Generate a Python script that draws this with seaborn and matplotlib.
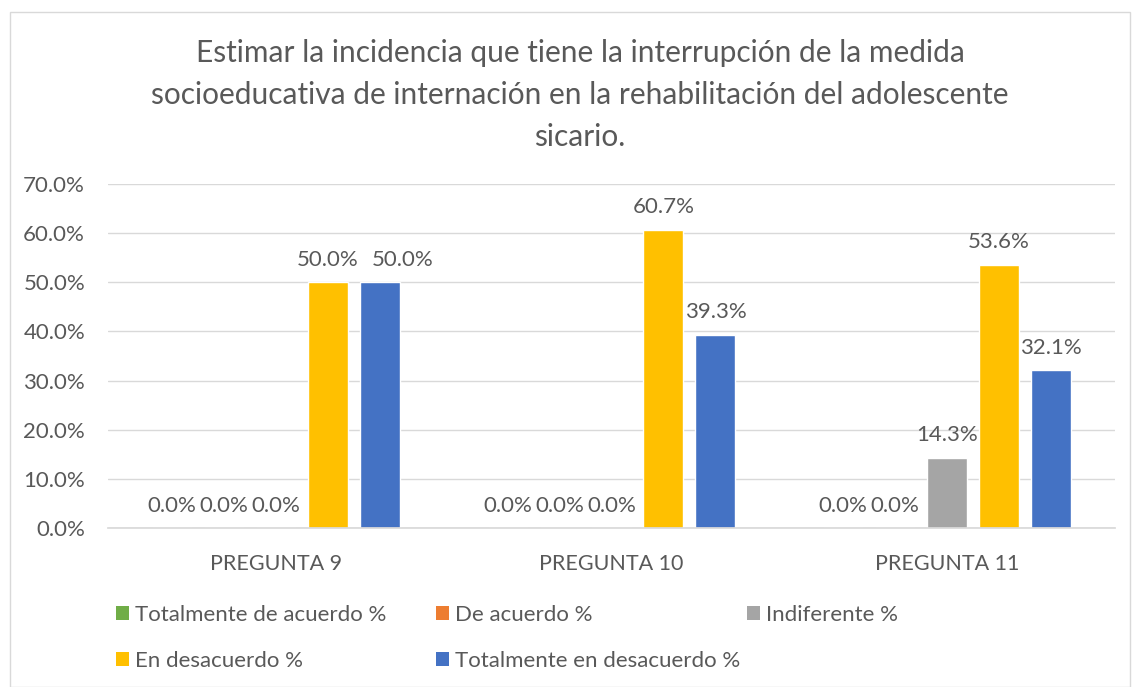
import numpy as np
import pandas as pd
import matplotlib
matplotlib.use("Agg")
import matplotlib.pyplot as plt
import seaborn as sns
from matplotlib.patches import Rectangle, Patch

preguntas = ["PREGUNTA 9", "PREGUNTA 10", "PREGUNTA 11"]
categorias = ["Totalmente de acuerdo %", "De acuerdo %", "Indiferente %",
              "En desacuerdo %", "Totalmente en desacuerdo %"]
tot_acuerdo = [0.0, 0.0, 0.0]
de_acuerdo = [0.0, 0.0, 0.0]
indiferente = [0.0, 0.0, 14.3]
en_desacuerdo = [50.0, 60.7, 53.6]
tot_desacuerdo = [50.0, 39.3, 32.1]
colores = ["#70AD47", "#ED7D31", "#A5A5A5", "#FFC000", "#4472C4"]
titulo = ("Estimar la incidencia que tiene la interrupción de la medida\n"
          "socioeducativa de internación en la rehabilitación del adolescente\n"
          "sicario.")

series = [tot_acuerdo, de_acuerdo, indiferente, en_desacuerdo, tot_desacuerdo]
rows = []
for cat, vals in zip(categorias, series):
    for p, v in zip(preguntas, vals):
        rows.append({"pregunta": p, "categoria": cat, "valor": v})
df = pd.DataFrame(rows)

sns.set_theme(style="white")
plt.rcParams["font.family"] = ["Lato", "DejaVu Sans"]
txt = "#595959"
fs = 16

fig = plt.figure(figsize=(11.32, 6.87), dpi=100)
ax = fig.add_axes([108/1132, 1-528/687, (1115-108)/1132, (528-184)/687])

sns.barplot(data=df, x="pregunta", y="valor", hue="categoria",
            hue_order=categorias, order=preguntas, palette=colores,
            width=0.774, gap=0.23, legend=False, ax=ax, saturation=1)

pad_pt = 9
all_labels = []
for cont in ax.containers:
    all_labels.append(ax.bar_label(cont, fmt="%.1f%%", padding=pad_pt,
                                   fontsize=fs, color=txt))
# the label of the last series in the first group sits shifted to the right
all_labels[4][0].xyann = (16.5, pad_pt)

ax.set_ylim(0, 70)
ax.set_yticks(np.arange(0, 71, 10))
ax.set_yticklabels([f"{v:.1f}%" for v in np.arange(0, 71, 10)])
ax.yaxis.grid(True, color="#D9D9D9", linewidth=1)
ax.set_axisbelow(True)
for s in ["top", "right", "left"]:
    ax.spines[s].set_visible(False)
ax.spines["bottom"].set_color("#D9D9D9")
ax.tick_params(axis="y", length=0, pad=16.5, labelsize=16, labelcolor=txt)
ax.tick_params(axis="x", length=0, pad=19, labelsize=15.5, labelcolor=txt)
ax.set_xlabel("")
ax.set_ylabel("")

fig.text(580/1132, 1-95/687, titulo, ha="center", va="center", fontsize=21.5,
         color=txt, linespacing=1.62)

# legend: Excel-style grid of equal-width slots (3 per row)
slot_x = [116, 436, 747]
slot_y = [615, 661]
for i, (cat, col) in enumerate(zip(categorias, colores)):
    r, c = divmod(i, 3)
    leg = fig.legend([Patch(facecolor=col, edgecolor="none")], [cat],
                     loc="center left",
                     bbox_to_anchor=(slot_x[c]/1132, 1-slot_y[r]/687),
                     frameon=False, fontsize=fs, labelcolor=txt,
                     handlelength=0.6, handleheight=0.6, handletextpad=0.25,
                     borderpad=0, borderaxespad=0)

fig.patches.append(Rectangle((10/1132, 0), 1-12/1132, 1-12/687, transform=fig.transFigure,
                             fill=False, edgecolor="#D9D9D9", linewidth=1))

fig.savefig("out.png", dpi=100)
